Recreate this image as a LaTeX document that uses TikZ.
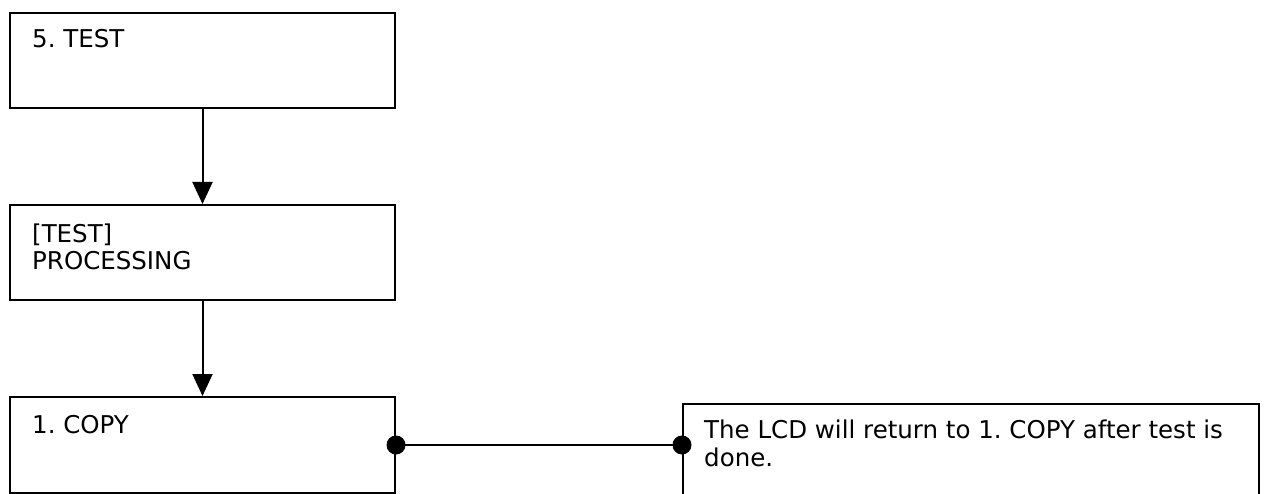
\documentclass[tikz,border=0pt]{standalone}
\usepackage{fontspec}
\setmainfont{DejaVu Sans}
\frenchspacing
\usetikzlibrary{arrows.meta}
\begin{document}
\begin{tikzpicture}[x=1pt,y=-1pt,
  box/.style={draw, line width=2pt, minimum width=385pt, minimum height=95pt, inner sep=0pt},
  txt/.style={anchor=base west, inner sep=0pt, align=left, font=\fontsize{24.5}{27.5}\selectfont},
  flow/.style={line width=2pt, -{Triangle[length=22pt,width=20pt]}}]
\useasboundingbox (0,0) rectangle (1268,494);
\clip (0,0) rectangle (1268,494);
\node[box] (b1) at (202.5,60.5) {};
\node[box] (b2) at (202.5,252.5) {};
\node[box, minimum height=96pt] (b3) at (202.5,445) {};
\node[box, minimum width=576pt, minimum height=116pt] (b4) at (971,462) {};
\node[txt] (t1) at (32,48) {5. TEST};
\node[txt] (t2) at (32,269.5) {[TEST]\\PROCESSING};
\node[txt] (t3) at (32,433) {1. COPY};
\node[txt] (t4) at (704,466) {The LCD will return to 1. COPY after test is\\done.};
\draw[flow] (b1.south) -- (b2.north);
\draw[flow] (b2.south) -- (b3.north);
\coordinate (c4) at (b3.east -| b4.west);
\draw[line width=2pt] (b3.east) -- (c4);
\fill (b3.east) circle (9.5pt);
\fill (c4) circle (9.5pt);
\end{tikzpicture}
\end{document}
